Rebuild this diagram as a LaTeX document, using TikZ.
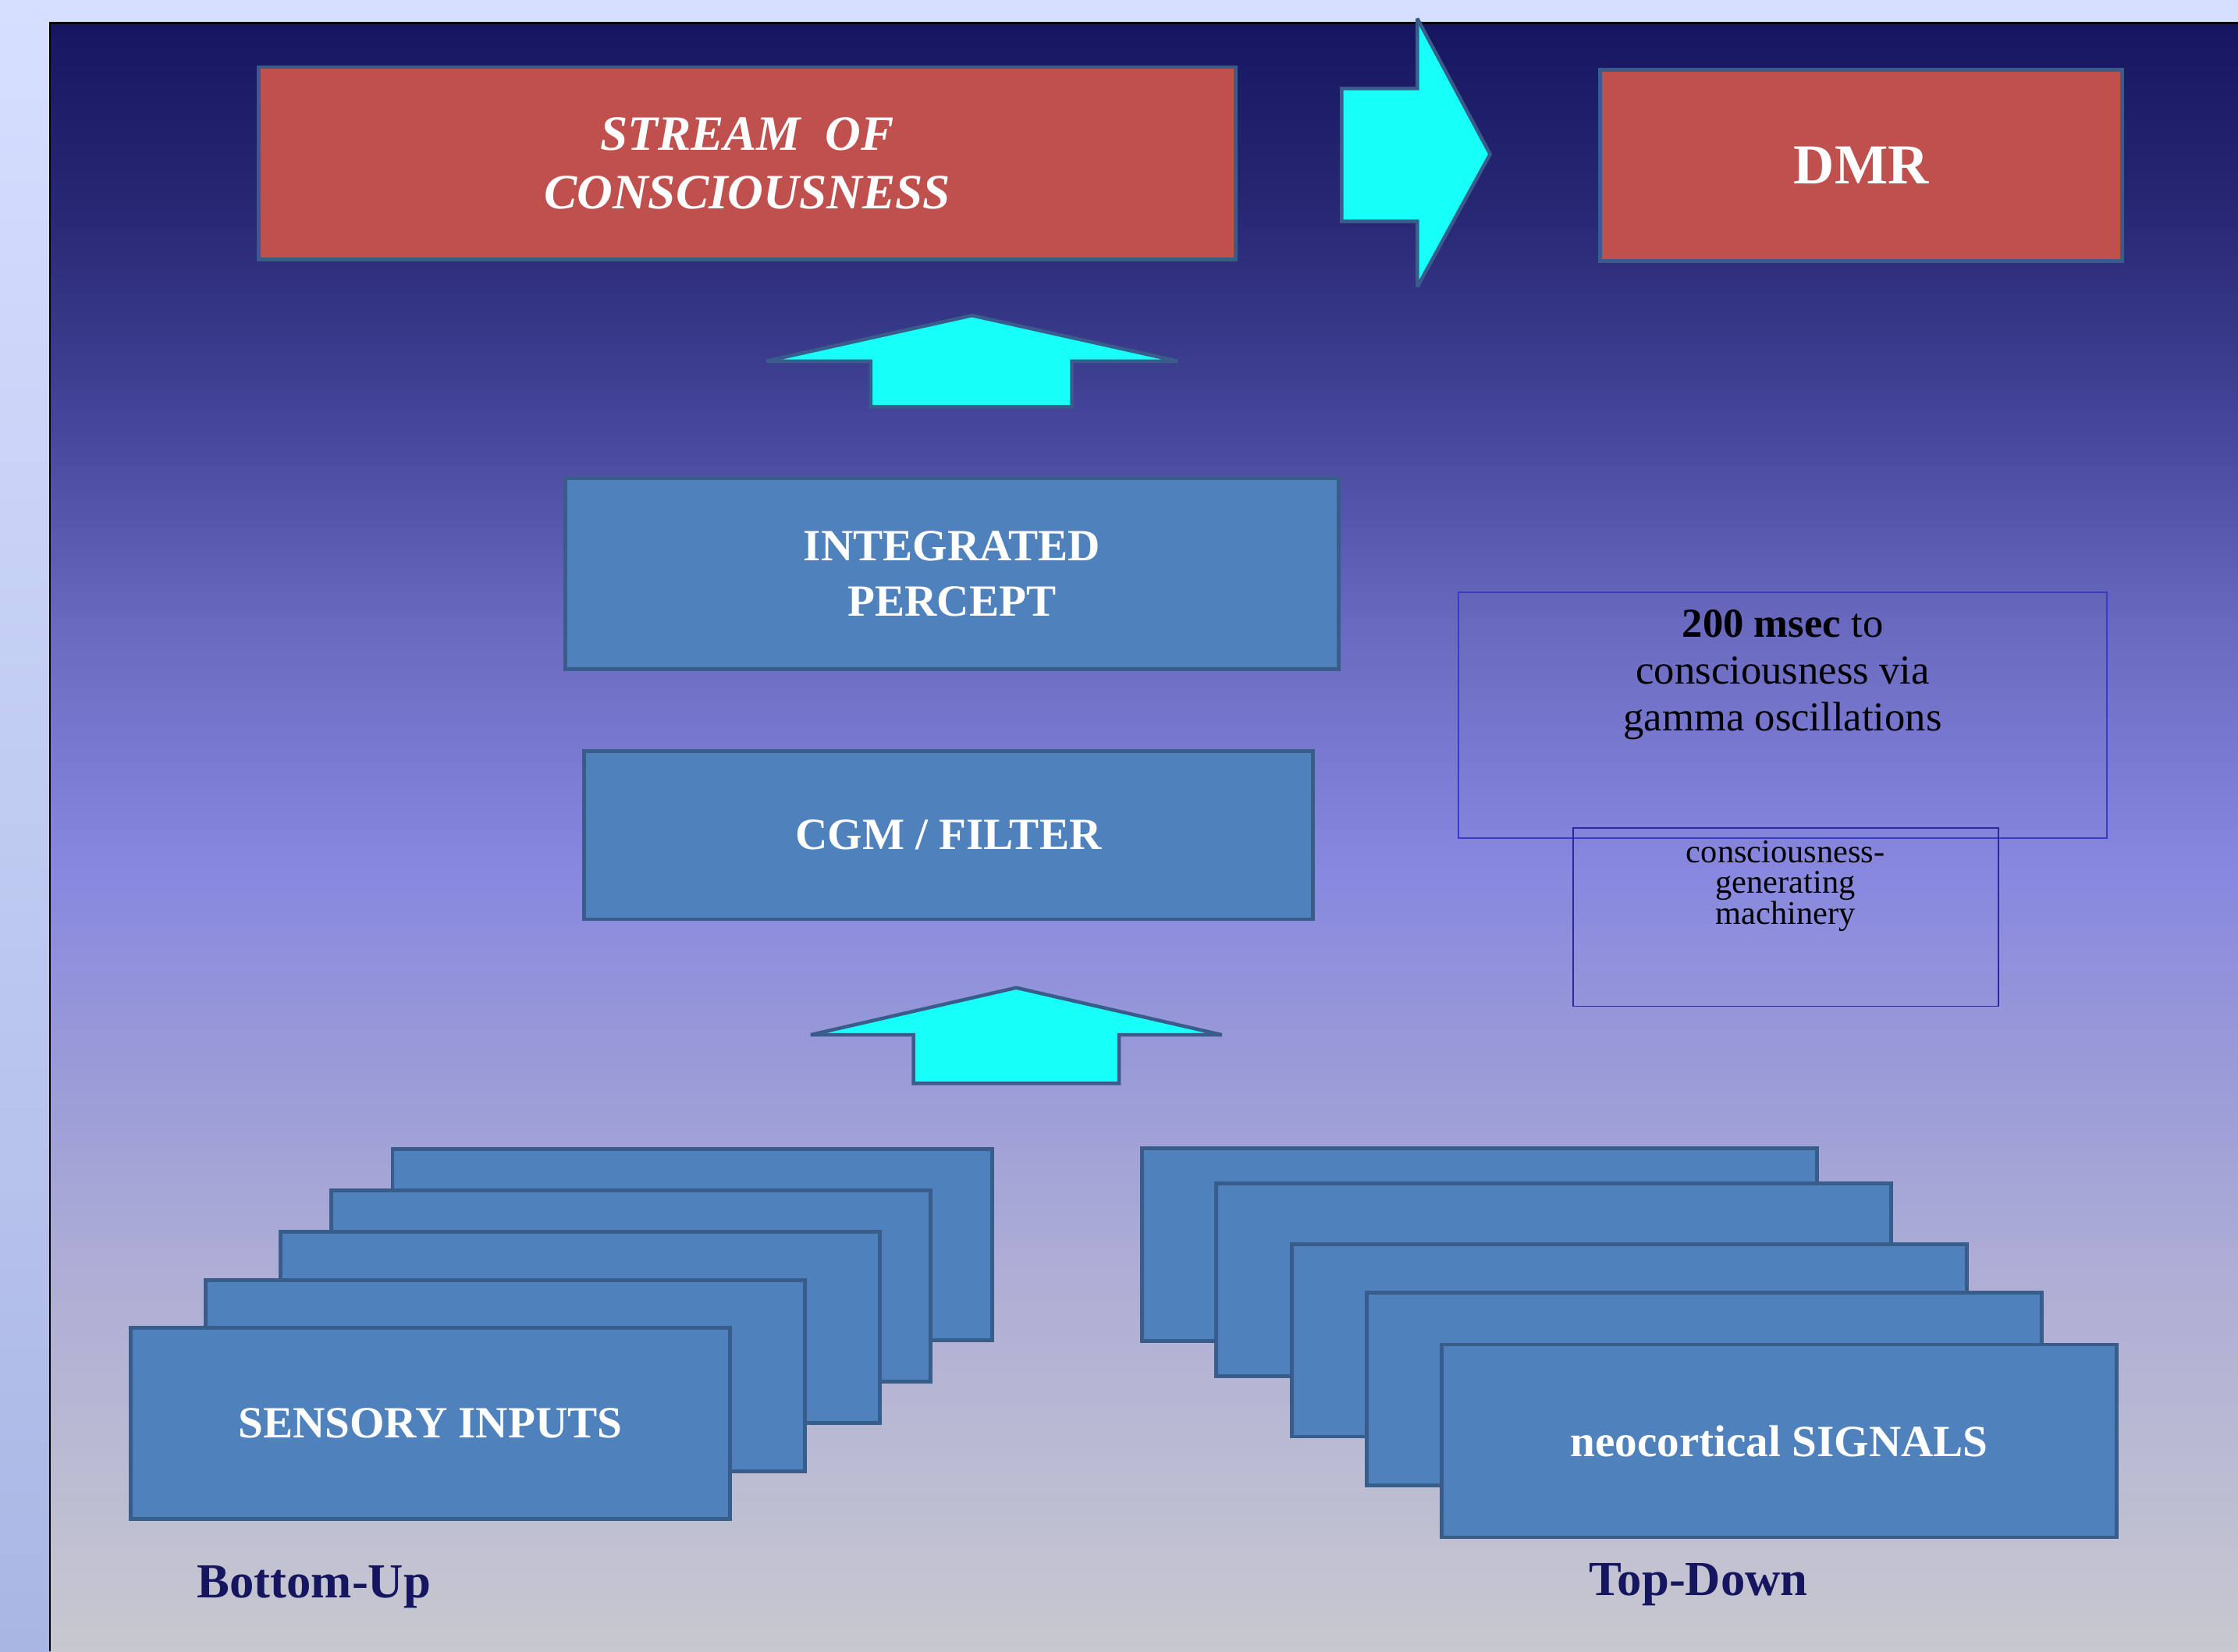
\documentclass[tikz,border=0pt]{standalone}
\usepackage{fontspec}
\setmainfont{Liberation Serif}
\usepackage{tikz}
\usetikzlibrary{positioning}

\definecolor{slidered}{HTML}{C0504D}
\definecolor{slideblue}{HTML}{4F81BD}
\definecolor{edgeblue}{HTML}{385D8A}
\definecolor{arrowcyan}{HTML}{16FFF8}
\definecolor{navytext}{HTML}{151560}
\definecolor{notedge}{HTML}{3A3ACC}
\definecolor{notedgedark}{HTML}{2A2A99}
\definecolor{pagetop}{HTML}{D6DFFF}
\definecolor{pagebottom}{HTML}{A9B6E4}
\definecolor{panelA}{HTML}{C8C8D0}
\definecolor{panelB}{HTML}{ADADD6}
\definecolor{panelC}{HTML}{9999D8}
\definecolor{panelD}{HTML}{8787E0}
\definecolor{panelE}{HTML}{6A6AC0}
\definecolor{panelF}{HTML}{45459A}
\definecolor{panelG}{HTML}{272774}
\definecolor{panelH}{HTML}{161660}

\pgfdeclareverticalshading{panelshade}{100bp}{color(0bp)=(panelA); color(25bp)=(panelA); color(36.9bp)=(panelB); color(43.35bp)=(panelC); color(49.2bp)=(panelD); color(56.3bp)=(panelE); color(62.75bp)=(panelF); color(69.25bp)=(panelG); color(75bp)=(panelH); color(100bp)=(panelH)}

\begin{document}
\begin{tikzpicture}[x=0.02cm, y=-0.02cm,
	redbox/.style={draw=edgeblue, line width=1.5pt, fill=slidered, text=white, align=center, inner sep=0pt},
	bluebox/.style={draw=edgeblue, line width=1.5pt, fill=slideblue, text=white, align=center, inner sep=0pt, font=\bfseries\fontsize{17.8}{22}\selectfont},
	stackleft/.style={minimum width=8.4cm, minimum height=2.68cm},
	stackright/.style={minimum width=9.46cm, minimum height=2.7cm},
	blockarrow/.style={draw=edgeblue, line width=1.4pt, fill=arrowcyan, line join=miter, miter limit=3},
	notebox/.style={line width=0.6pt, inner sep=0pt},
	notetext/.style={inner sep=0pt, align=center, text=black},
	sidelabel/.style={text=navytext, inner sep=0pt, font=\bfseries\fontsize{19.5}{23}\selectfont}]

	% background
	\useasboundingbox (0,0) rectangle (1568,1157);
	\fill[top color=pagetop, bottom color=pagebottom] (0,0) rectangle (1568,1157);
	\fill[shading=panelshade] (35,16) rectangle (1568,1157);
	\draw[line width=0.8pt] (35,1157) -- (35,16) -- (1568,16);

	\node[redbox, minimum width=13.7cm, minimum height=2.7cm, font=\bfseries\itshape\fontsize{19.7}{23.2}\selectfont] (stream) at (523.5,114.5) {STREAM\ \ OF\\CONSCIOUSNESS};
	\node[redbox, minimum width=7.32cm, minimum height=2.68cm, font=\bfseries\fontsize{22.5}{27}\selectfont] (dmr) at (1304,116) {DMR};

	\node[bluebox, minimum width=10.84cm, minimum height=2.68cm] (percept) at (667,402) {INTEGRATED\\PERCEPT};
	\node[bluebox, minimum width=10.22cm, minimum height=2.36cm] (filter) at (664.5,585) {CGM / FILTER};

	\node[bluebox, stackleft] (sense5) at (485,872) {};
	\node[bluebox, stackleft] (sense4) at (442,901) {};
	\node[bluebox, stackleft] (sense3) at (406.5,930) {};
	\node[bluebox, stackleft] (sense2) at (354,964) {};
	\node[bluebox, stackleft] (sense1) at (301.5,997) {SENSORY INPUTS};

	\node[bluebox, stackright] (signal5) at (1036.5,872) {};
	\node[bluebox, stackright] (signal4) at (1088.5,896.5) {};
	\node[bluebox, stackright] (signal3) at (1141.5,939) {};
	\node[bluebox, stackright] (signal2) at (1194,973) {};
	\node[bluebox, stackright] (signal1) at (1246.5,1009.5) {neocortical SIGNALS};

	\node[notebox, draw=notedge, minimum width=9.08cm, minimum height=3.44cm] (latency) at (1249,501) {};
	\node[notetext, below=0.25cm of latency.north, font=\fontsize{16.4}{18.7}\selectfont] (latencytext) {\textbf{200 msec} to\\consciousness via\\gamma oscillations};
	\node[notebox, draw=notedgedark, minimum width=5.96cm, minimum height=2.5cm] (cgm) at (1251,642.5) {};
	\node[notetext, below=0.18cm of cgm.north, font=\fontsize{13.2}{12.4}\selectfont] (cgmtext) {consciousness-\\generating\\machinery};

	\node[sidelabel] (bottomup) at (220,1112) {Bottom-Up};
	\node[sidelabel] (topdown) at (1190,1110) {Top-Down};

	% block arrows
	\draw[blockarrow] (940,62) -- (993,62) -- (993,13) -- (1044,108) -- (993,201) -- (993,155) -- (940,155) -- cycle;
	\draw[blockarrow] (610,285) -- (610,253) -- (537,253) -- (681,221) -- (825,253) -- (751,253) -- (751,285) -- cycle;
	\draw[blockarrow] (640,759) -- (640,725) -- (568,725) -- (712,692) -- (856,725) -- (784,725) -- (784,759) -- cycle;
\end{tikzpicture}
\end{document}
